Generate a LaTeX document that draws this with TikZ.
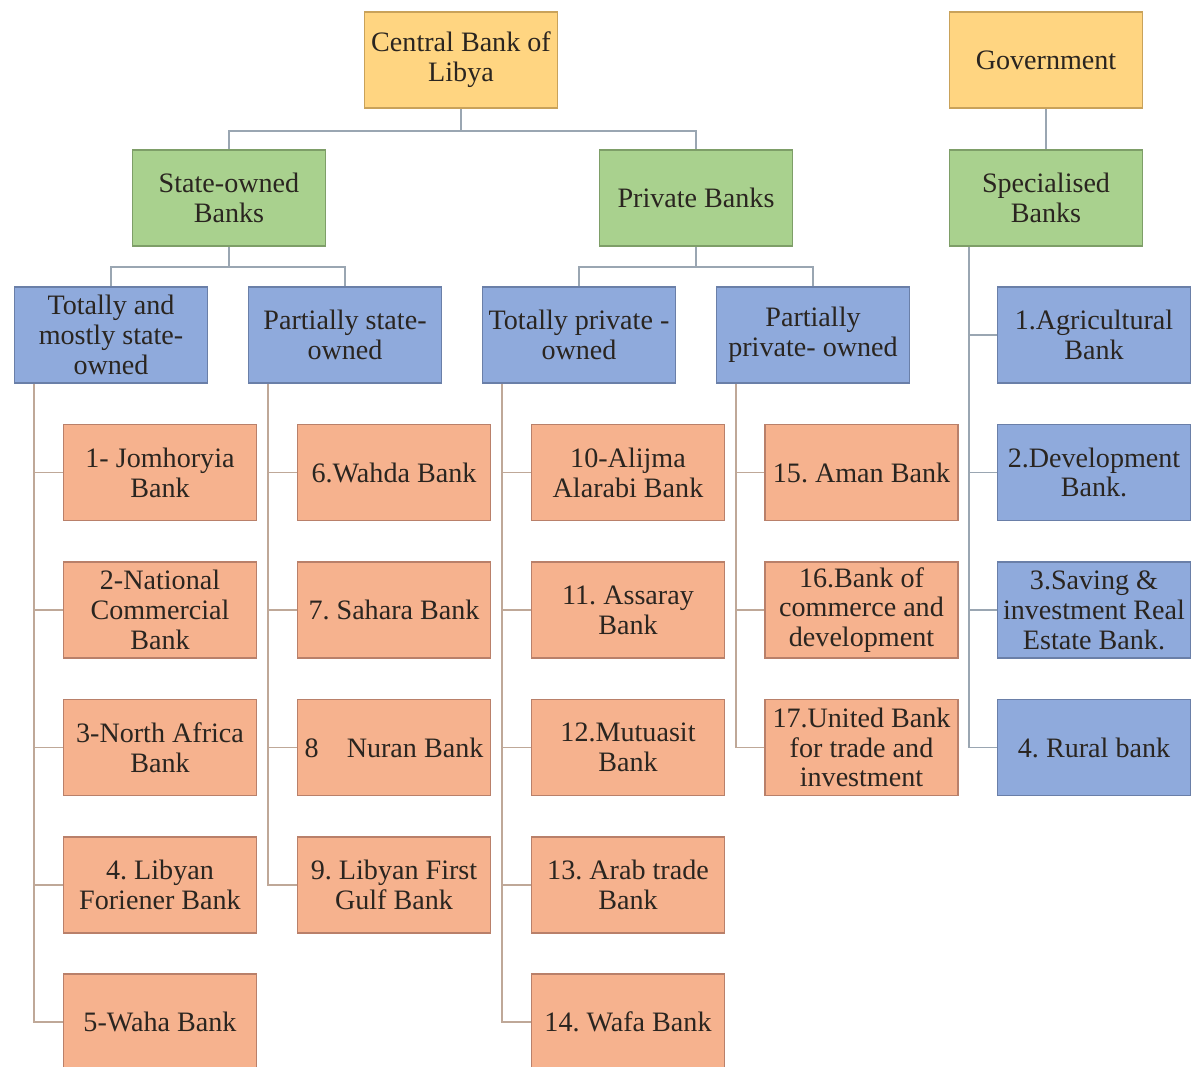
\documentclass[tikz,border=0pt]{standalone}
\usepackage{fontspec}
\setmainfont{Liberation Serif}
\frenchspacing
\definecolor{yfill}{HTML}{FFD581}
\definecolor{ydraw}{HTML}{C9A25A}
\definecolor{gfill}{HTML}{A9D18E}
\definecolor{gdraw}{HTML}{7E9E68}
\definecolor{bfill}{HTML}{8FAADC}
\definecolor{bdraw}{HTML}{6A7FA8}
\definecolor{ofill}{HTML}{F6B28E}
\definecolor{odraw}{HTML}{B9806A}
\definecolor{lnA}{HTML}{9AA6B2}
\definecolor{lnB}{HTML}{BFA898}
\definecolor{txt}{HTML}{2A2520}
\begin{document}
\begin{tikzpicture}[x=0.02cm,y=-0.02cm,
  box/.style={draw,line width=0.9pt,minimum width=3.86cm,minimum height=1.92cm,
    align=center,inner sep=1pt,text=txt,font=\fontsize{16}{17}\selectfont},
  ybox/.style={box,fill=yfill,draw=ydraw},
  gbox/.style={box,fill=gfill,draw=gdraw},
  bbox/.style={box,fill=bfill,draw=bdraw},
  obox/.style={box,fill=ofill,draw=odraw},
  lna/.style={draw=lnA,line width=1.1pt},
  lnb/.style={draw=lnB,line width=1.1pt}]
\useasboundingbox (0,0) rectangle (1192,1067);
\fill[white] (0,0) rectangle (1192,1067);
% top
\node[ybox] (cbl) at (461,60) {Central Bank of\\Libya};
\node[ybox] (gov) at (1046,60) {Government};
\node[gbox] (state) at (229,198) {State-owned\\Banks};
\node[gbox] (priv) at (696,198) {Private Banks};
\node[gbox] (spec) at (1046,198) {Specialised\\Banks};
% blue level
\node[bbox] (tm) at (111,335) {Totally and\\mostly state-\\owned};
\node[bbox] (ps) at (345,335) {Partially state-\\owned};
\node[bbox] (tp) at (579,335) {Totally private -\\owned};
\node[bbox] (pp) at (813,335) {Partially\\private- owned};
% specialised banks
\node[bbox] (s1) at (1094,335) {1.Agricultural\\Bank};
\node[bbox] (s2) at (1094,472.5) {2.Development\\Bank.};
\node[bbox] (s3) at (1094,610) {3.Saving \&\\investment Real\\Estate Bank.};
\node[bbox] (s4) at (1094,747.5) {4. Rural bank};
% column 1
\node[obox] (o1) at (160,472.5) {1- Jomhoryia\\Bank};
\node[obox] (o2) at (160,610) {2-National\\Commercial\\Bank};
\node[obox] (o3) at (160,747.5) {3-North Africa\\Bank};
\node[obox] (o4) at (160,885) {4. Libyan\\Foriener Bank};
\node[obox] (o5) at (160,1022) {5-Waha Bank};
% column 2
\node[obox] (o6) at (394,472.5) {6.Wahda Bank};
\node[obox] (o7) at (394,610) {7. Sahara Bank};
\node[obox] (o8) at (394,747.5) {8\quad Nuran Bank};
\node[obox] (o9) at (394,885) {9. Libyan First\\Gulf Bank};
% column 3
\node[obox] (o10) at (628,472.5) {10-Alijma\\Alarabi Bank};
\node[obox] (o11) at (628,610) {11. Assaray\\Bank};
\node[obox] (o12) at (628,747.5) {12.Mutuasit\\Bank};
\node[obox] (o13) at (628,885) {13. Arab trade\\Bank};
\node[obox] (o14) at (628,1022) {14. Wafa Bank};
% column 4
\node[obox] (o15) at (861.5,472.5) {15. Aman Bank};
\node[obox] (o16) at (861.5,610) {16.Bank of\\commerce and\\development};
\node[obox] (o17) at (861.5,747.5) {17.United Bank\\for trade and\\investment};
% connectors top
\draw[lna] (cbl.south) -- ++(0,22) -| (state.north);
\draw[lna] (cbl.south) -- ++(0,22) -| (priv.north);
\draw[lna] (gov.south) -- (spec.north);
\draw[lna] (state.south) -- ++(0,20) -| (tm.north);
\draw[lna] (state.south) -- ++(0,20) -| (ps.north);
\draw[lna] (priv.south) -- ++(0,20) -| (tp.north);
\draw[lna] (priv.south) -- ++(0,20) -| (pp.north);
% specialised
\foreach \c in {s1,s2,s3,s4}
  \draw[lna] ([xshift=0.4cm]spec.south west) |- (\c.west);
% columns
\foreach \c in {o1,o2,o3,o4,o5}
  \draw[lnb] ([xshift=0.4cm]tm.south west) |- (\c.west);
\foreach \c in {o6,o7,o8,o9}
  \draw[lnb] ([xshift=0.4cm]ps.south west) |- (\c.west);
\foreach \c in {o10,o11,o12,o13,o14}
  \draw[lnb] ([xshift=0.4cm]tp.south west) |- (\c.west);
\foreach \c in {o15,o16,o17}
  \draw[lnb] ([xshift=0.4cm]pp.south west) |- (\c.west);
\end{tikzpicture}
\end{document}
